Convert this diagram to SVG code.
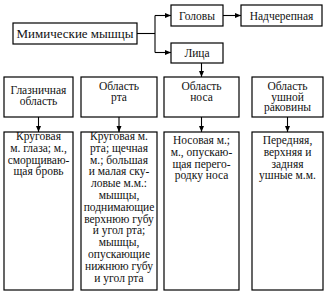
<svg xmlns="http://www.w3.org/2000/svg" width="325" height="297" viewBox="0 0 325 297">
<style>
rect{fill:#fff;stroke:#000;stroke-width:1.2}
text{font-family:"Liberation Serif",serif !important;font-size:11.5px;fill:#111;text-anchor:middle}
.big{font-size:13px}
.c{fill:none;stroke:#000;stroke-width:1.1}
</style>
<defs>
<marker id="ah" viewBox="0 0 6 6" refX="6" refY="3" markerWidth="6" markerHeight="6" markerUnits="userSpaceOnUse" orient="auto">
<path d="M0,0.5 L6,3 L0,5.5 Z" fill="#000"/>
</marker>
</defs>
<rect x="0" y="0" width="325" height="297" style="stroke:none"/>
<g id="connectors">
<path class="c" d="M137,33.5 H155"/>
<path class="c" d="M155,15.5 V52.5"/>
<path class="c" d="M155,15.5 H171" marker-end="url(#ah)"/>
<path class="c" d="M155,52.5 H171" marker-end="url(#ah)"/>
<path class="c" d="M223,15.5 H241" marker-end="url(#ah)"/>
<path class="c" d="M201.5,63 V77" marker-end="url(#ah)"/>
<path class="c" d="M38.5,117 V132" marker-end="url(#ah)"/>
<path class="c" d="M119,117 V132" marker-end="url(#ah)"/>
<path class="c" d="M201.5,117 V132" marker-end="url(#ah)"/>
<path class="c" d="M287.5,117 V132" marker-end="url(#ah)"/>
</g>
<g id="mimic">
<rect x="13" y="23" width="124" height="21"/>
<text font-family="Liberation Serif" class="big" x="75" y="38">Мимические мышцы</text>
</g>
<g id="golovy">
<rect x="171" y="5" width="52" height="21"/>
<text font-family="Liberation Serif" x="197" y="19.5">Головы</text>
</g>
<g id="nadch">
<rect x="241" y="5" width="81" height="21"/>
<text font-family="Liberation Serif" x="281.5" y="19.5">Надчерепная</text>
</g>
<g id="litsa">
<rect x="171" y="43" width="52" height="20"/>
<text font-family="Liberation Serif" x="197" y="57">Лица</text>
</g>
<g id="glaz">
<rect x="4" y="77" width="69" height="40"/>
<text font-family="Liberation Serif" x="38.5" y="94">Глазничная</text>
<text font-family="Liberation Serif" x="38.5" y="105">область</text>
</g>
<g id="rta">
<rect x="81" y="77" width="76" height="40"/>
<text font-family="Liberation Serif" x="119" y="89.5">Область</text>
<text font-family="Liberation Serif" x="119" y="100.5">рта</text>
</g>
<g id="nosa">
<rect x="164" y="77" width="75" height="40"/>
<text font-family="Liberation Serif" x="201.5" y="89.5">Область</text>
<text font-family="Liberation Serif" x="201.5" y="100.5">носа</text>
</g>
<g id="ushn">
<rect x="252" y="77" width="71" height="40"/>
<text font-family="Liberation Serif" x="287.5" y="90">Область</text>
<text font-family="Liberation Serif" x="287.5" y="100.5">ушной</text>
<text font-family="Liberation Serif" x="287.5" y="111">раковины</text>
</g>
<g id="glaz-m">
<rect x="4" y="132" width="69" height="158"/>
<text font-family="Liberation Serif" x="38.5" y="140">Круговая</text>
<text font-family="Liberation Serif" x="38.5" y="151.8">м. глаза; м.,</text>
<text font-family="Liberation Serif" x="38.5" y="163.6">сморщиваю-</text>
<text font-family="Liberation Serif" x="38.5" y="175.4">щая бровь</text>
</g>
<g id="rta-m">
<rect x="81" y="132" width="76" height="158"/>
<text font-family="Liberation Serif" x="119" y="140">Круговая м.</text>
<text font-family="Liberation Serif" x="119" y="151.8">рта; щечная</text>
<text font-family="Liberation Serif" x="119" y="163.6">м.; большая</text>
<text font-family="Liberation Serif" x="119" y="175.4">и малая ску-</text>
<text font-family="Liberation Serif" x="119" y="187.2">ловые м.м.:</text>
<text font-family="Liberation Serif" x="119" y="199">мышцы,</text>
<text font-family="Liberation Serif" x="119" y="210.8">поднимающие</text>
<text font-family="Liberation Serif" x="119" y="222.6">верхнюю губу</text>
<text font-family="Liberation Serif" x="119" y="234.4">и угол рта;</text>
<text font-family="Liberation Serif" x="119" y="246.2">мышцы,</text>
<text font-family="Liberation Serif" x="119" y="258">опускающие</text>
<text font-family="Liberation Serif" x="119" y="269.8">нижнюю губу</text>
<text font-family="Liberation Serif" x="119" y="281.6">и угол рта</text>
</g>
<g id="nosa-m">
<rect x="164" y="132" width="75" height="158"/>
<text font-family="Liberation Serif" x="201.5" y="144">Носовая м.;</text>
<text font-family="Liberation Serif" x="201.5" y="155.8">м., опускаю-</text>
<text font-family="Liberation Serif" x="201.5" y="167.6">щая перего-</text>
<text font-family="Liberation Serif" x="201.5" y="179.4">родку носа</text>
</g>
<g id="ushn-m">
<rect x="252" y="132" width="71" height="158"/>
<text font-family="Liberation Serif" x="287.5" y="144">Передняя,</text>
<text font-family="Liberation Serif" x="287.5" y="155.8">верхняя и</text>
<text font-family="Liberation Serif" x="287.5" y="167.6">задняя</text>
<text font-family="Liberation Serif" x="287.5" y="179.4">ушные м.м.</text>
</g>
</svg>
